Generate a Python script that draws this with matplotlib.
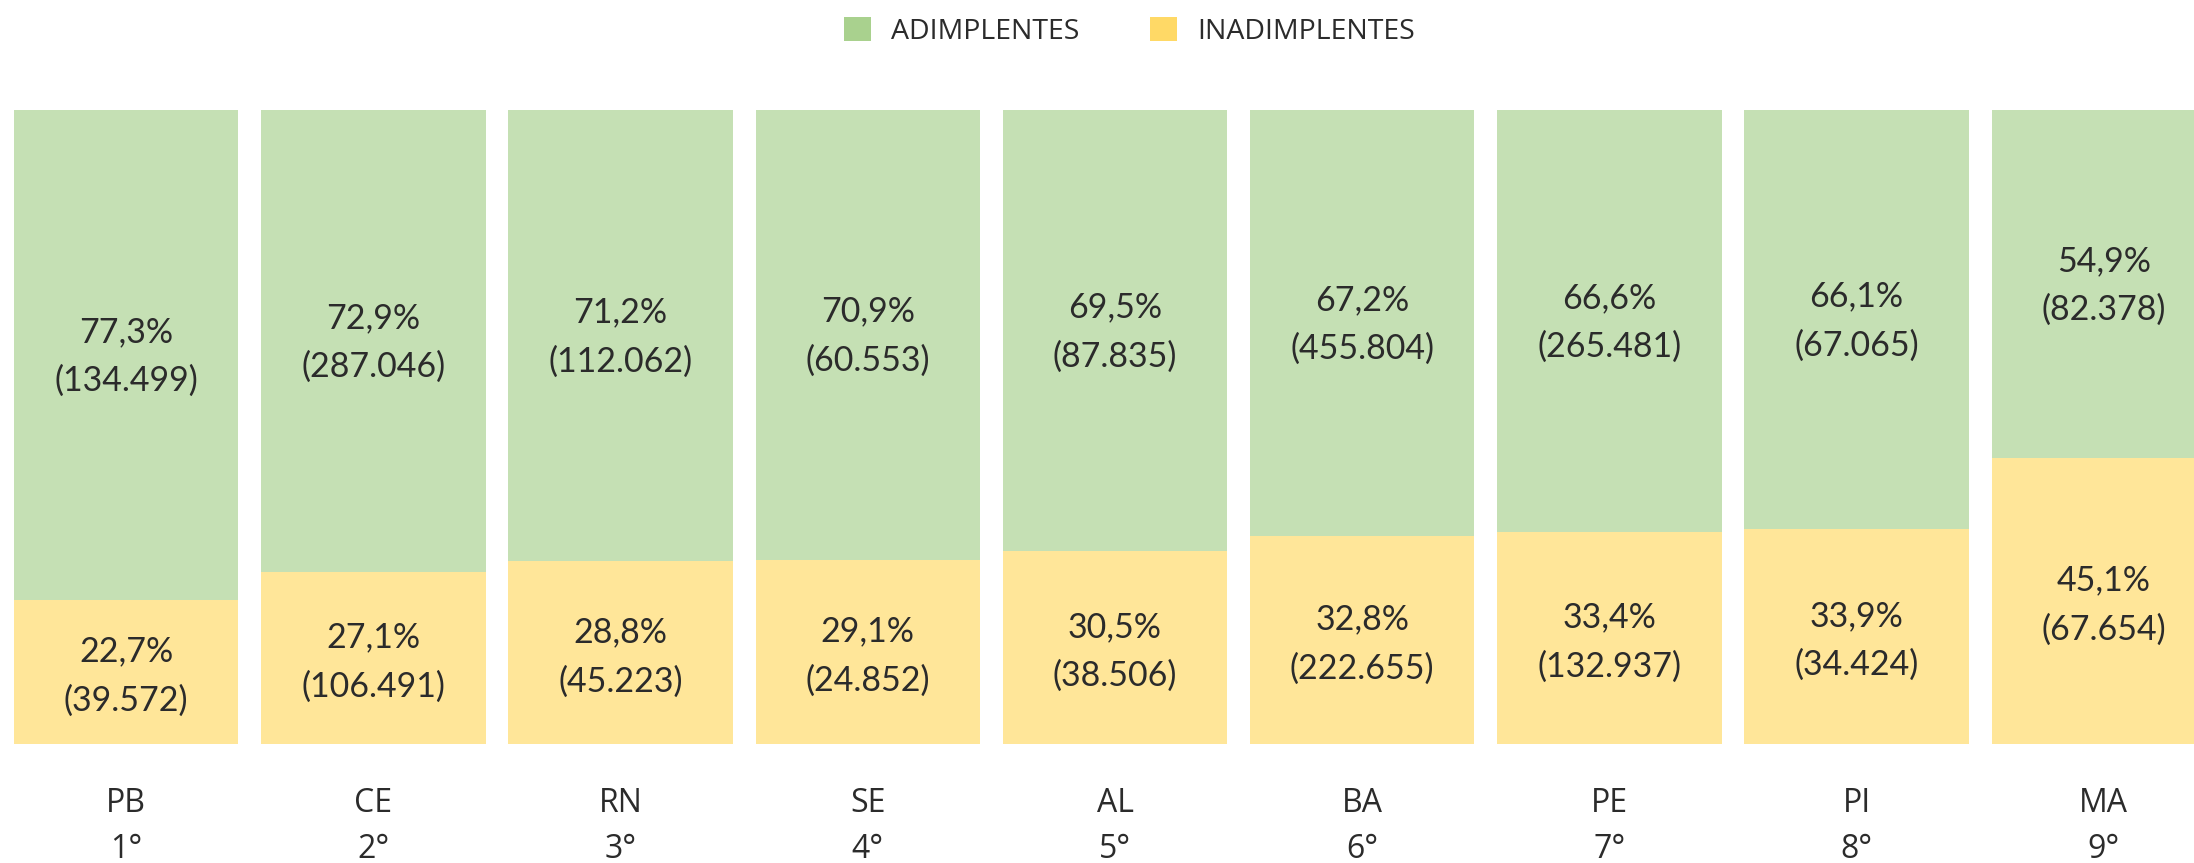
import matplotlib
matplotlib.use("Agg")
import matplotlib.pyplot as plt
from matplotlib.patches import Patch
from matplotlib.transforms import offset_copy

states = ["PB", "CE", "RN", "SE", "AL", "BA", "PE", "PI", "MA"]
ranks = ["1°", "2°", "3°", "4°", "5°", "6°", "7°", "8°", "9°"]
adim_pct = [77.3, 72.9, 71.2, 70.9, 69.5, 67.2, 66.6, 66.1, 54.9]
inad_pct = [22.7, 27.1, 28.8, 29.1, 30.5, 32.8, 33.4, 33.9, 45.1]
adim_n = [134499, 287046, 112062, 60553, 87835, 455804, 265481, 67065, 82378]
inad_n = [39572, 106491, 45223, 24852, 38506, 222655, 132937, 34424, 67654]
series_names = ["ADIMPLENTES", "INADIMPLENTES"]

GREEN_BAR = "#C5E0B4"
YELLOW_BAR = "#FFE699"
GREEN_LEG = "#A9D18E"
YELLOW_LEG = "#FFD966"
TXT = "#2b2b2b"

def fmt_pct(v):
    return f"{v:.1f}".replace(".", ",") + "%"

def fmt_n(v):
    return f"({v:,})".replace(",", ".")

fig = plt.figure(figsize=(21.94, 8.63), dpi=100)
ax = fig.add_axes([0, 0.1379, 1, 0.7346])

x = list(range(len(states)))
w = 0.908
ax.bar(x, inad_pct, width=w, color=YELLOW_BAR, linewidth=0)
ax.bar(x, adim_pct, width=w, bottom=inad_pct, color=GREEN_BAR, linewidth=0)

tr_low = offset_copy(ax.transData, fig=fig, x=0, y=-3, units="points")
tr_up = offset_copy(ax.transData, fig=fig, x=0, y=-1, units="points")
for i in x:
    ax.text(i, inad_pct[i] / 2, fmt_pct(inad_pct[i]) + "\n" + fmt_n(inad_n[i]),
            ha="center", va="center", fontsize=24.5, color=TXT, family="Lato",
            linespacing=1.65, transform=tr_low)
    ax.text(i, inad_pct[i] + adim_pct[i] / 2, fmt_pct(adim_pct[i]) + "\n" + fmt_n(adim_n[i]),
            ha="center", va="center", fontsize=24.5, color=TXT, family="Lato",
            linespacing=1.65, transform=tr_up)

ax.set_xlim(-0.5107, 8.365)
ax.set_ylim(0, 100)
ax.set_yticks([])
ax.set_xticks(x)
ax.set_xticklabels([f"{s}\n{r}" for s, r in zip(states, ranks)], fontsize=23,
                   color=TXT, family="Open Sans", linespacing=1.5)
ax.tick_params(axis="x", length=0, pad=31)
for sp in ax.spines.values():
    sp.set_visible(False)

handles = [Patch(facecolor=GREEN_LEG, edgecolor="none"),
           Patch(facecolor=YELLOW_LEG, edgecolor="none")]
fig.legend(handles, series_names, loc="center", bbox_to_anchor=(0.5148, 0.964),
           ncol=2, frameon=False, handlelength=0.95, handleheight=0.95,
           handletextpad=0.7, columnspacing=2.5, labelcolor=TXT,
           prop={"family": "Open Sans", "size": 20.5})

fig.savefig("out.png", dpi=100)
